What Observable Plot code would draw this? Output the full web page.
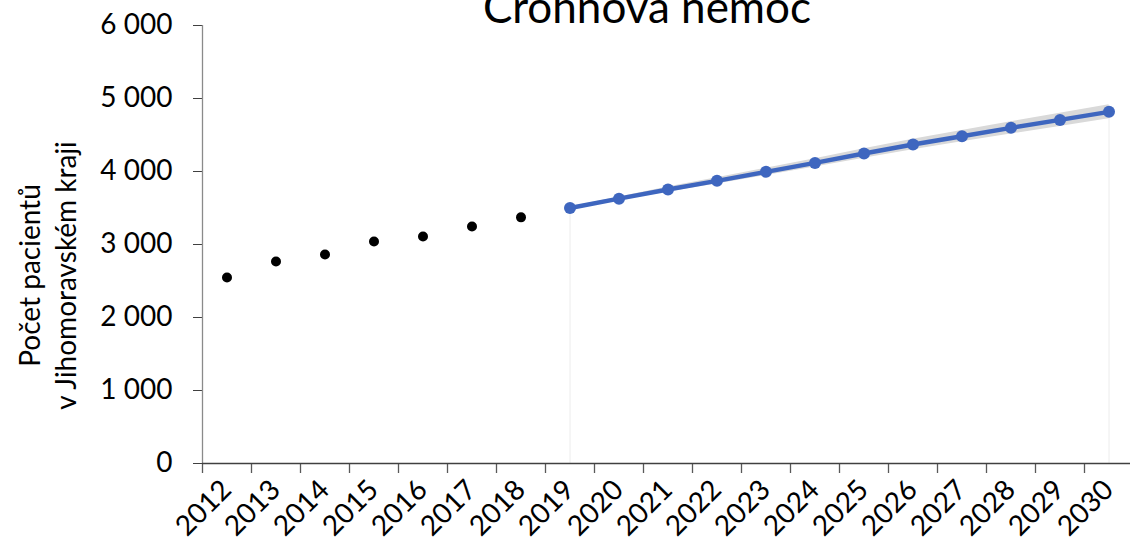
<!DOCTYPE html>
<html>
<head>
<meta charset="utf-8">
<script src="https://cdn.jsdelivr.net/npm/d3@7"></script>
<script src="https://cdn.jsdelivr.net/npm/@observablehq/plot@0.6"></script>
<style>
  html, body { margin: 0; padding: 0; background: white; overflow: hidden; }
  #wrap { position: relative; width: 1130px; height: 540px; overflow: hidden; }
  #title { position: absolute; top: -16px; left: 0; width: 1294px; text-align: center;
           font-family: Lato, sans-serif; font-size: 44px; line-height: 44px; color: black; white-space: nowrap; }
  #chart { position: absolute; top: 0; left: 0; }
</style>
</head>
<body>
<div id="wrap">
  <div id="chart"></div>
  <div id="title">Crohnova nemoc</div>
</div>
<script>
// Observed values (Jihomoravský kraj)
const histYears  = [2012, 2013, 2014, 2015, 2016, 2017, 2018];
const histValues = [2548, 2767, 2863, 3041, 3110, 3247, 3372];

// Forecast with confidence band
const fcYears  = [2019, 2020, 2021, 2022, 2023, 2024, 2025, 2026, 2027, 2028, 2029, 2030];
const fcValues = [3501, 3628, 3753, 3872, 3995, 4118, 4246, 4370, 4484, 4598, 4707, 4817];
const fcLow    = [3488, 3604, 3718, 3830, 3945, 4061, 4182, 4299, 4406, 4514, 4617, 4721];
const fcHigh   = [3514, 3652, 3788, 3914, 4045, 4175, 4310, 4441, 4562, 4682, 4797, 4913];

// Axis labels
const xLabels = ["2012","2013","2014","2015","2016","2017","2018","2019","2020","2021",
                 "2022","2023","2024","2025","2026","2027","2028","2029","2030"];
const yTicks = [0, 1000, 2000, 3000, 4000, 5000, 6000];
const yLabelText = "Počet pacientů\nv Jihomoravském kraji";

const hist = histYears.map((year, i) => ({year, value: histValues[i]}));
const fc = fcYears.map((year, i) => ({year, value: fcValues[i], lo: fcLow[i], hi: fcHigh[i]}));
const cats = xLabels.map(s => +s);
const xDomain = [cats[0] - 0.5, cats[cats.length - 1] + 0.5];
const boundaries = d3.range(cats.length + 1).map(i => xDomain[0] + i);
const drops = [fc[0], fc[fc.length - 1]];

const blue = "#3E66BF";
const fmt = d => d3.format(",")(d).replace(/,/g, " ");

const chart = Plot.plot({
  width: 1130,
  height: 540,
  marginLeft: 202,
  marginRight: 0,
  marginTop: 25,
  marginBottom: 77,
  style: {fontFamily: "Lato, sans-serif", fontSize: "28px", color: "black", background: "white", overflow: "visible"},
  x: {type: "linear", domain: xDomain, range: [202, 1133], axis: null},
  y: {domain: [0, 6000], range: [463, 25], axis: null},
  marks: [
    Plot.ruleX(drops, {x: "year", y1: 0, y2: "value", stroke: "#ececec", strokeWidth: 1}),
    Plot.axisY({ticks: yTicks, tickFormat: fmt, tickSize: 9, tickPadding: 21, label: null, stroke: "#404040", fontSize: 28}),
    Plot.ruleX([xDomain[0]], {stroke: "#8a8a8a", strokeWidth: 1.3}),
    Plot.axisX({ticks: boundaries, tickFormat: () => "", tickSize: 10, label: null, stroke: "#595959", strokeWidth: 1.3}),
    Plot.ruleY([0], {stroke: "#404040", strokeWidth: 1.3}),
    Plot.text(cats, {x: d => d, frameAnchor: "bottom", text: (d, i) => xLabels[i], rotate: -45,
      textAnchor: "end", lineAnchor: "top", dx: -8, dy: 14, fontSize: 28, fill: "black"}),
    Plot.text([yLabelText], {frameAnchor: "left", text: d => d, rotate: -90, textAnchor: "middle",
      lineAnchor: "middle", lineHeight: 1.3, dx: -156, dy: 31, fontSize: 28, fill: "black"}),
    Plot.areaY(fc, {x: "year", y1: "lo", y2: "hi", fill: "#d9d9d9"}),
    Plot.lineY(fc, {x: "year", y: "value", stroke: blue, strokeWidth: 4.5}),
    Plot.dot(fc, {x: "year", y: "value", r: 6, fill: blue}),
    Plot.dot(hist, {x: "year", y: "value", r: 5, fill: "black"})
  ]
});
document.getElementById("chart").appendChild(chart);
</script>
</body>
</html>
